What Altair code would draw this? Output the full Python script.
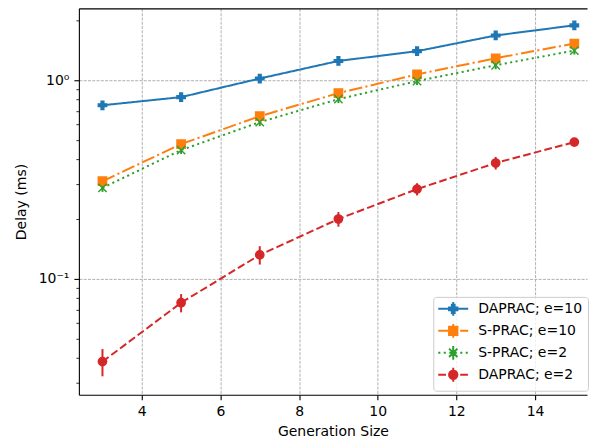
import altair as alt
import pandas as pd

# ---------------- data ----------------
gen_size = [3, 5, 7, 9, 11, 13, 15]
series_names = ["DAPRAC; e=10", "S-PRAC; e=10", "S-PRAC; e=2", "DAPRAC; e=2"]

daprac_e10 = [0.748, 0.822, 1.02, 1.25, 1.40, 1.68, 1.89]
daprac_e10_err = [0.015, 0.016, 0.02, 0.025, 0.028, 0.034, 0.038]

sprac_e10 = [0.310, 0.477, 0.659, 0.861, 1.07, 1.29, 1.53]
sprac_e10_err = [0.006, 0.010, 0.013, 0.017, 0.020, 0.025, 0.030]

sprac_e2 = [0.287, 0.445, 0.615, 0.803, 0.99, 1.19, 1.41]
sprac_e2_err = [0.013, 0.020, 0.028, 0.036, 0.045, 0.054, 0.063]

daprac_e2 = [0.0383, 0.0758, 0.132, 0.200, 0.283, 0.383, 0.488]
daprac_e2_err = [0.006, 0.008, 0.014, 0.017, 0.020, 0.028, 0.015]

x_ticks = [4, 6, 8, 10, 12, 14]
y_major = [0.1, 1]
y_minor = [0.03, 0.04, 0.05, 0.06, 0.07, 0.08, 0.09,
           0.2, 0.3, 0.4, 0.5, 0.6, 0.7, 0.8, 0.9, 2]

# ---------------- table ----------------
rows = []
for name, vals, errs in zip(series_names,
                            [daprac_e10, sprac_e10, sprac_e2, daprac_e2],
                            [daprac_e10_err, sprac_e10_err, sprac_e2_err, daprac_e2_err]):
    for gx, v, e in zip(gen_size, vals, errs):
        rows.append({"series": name, "x": gx, "y": v, "lo": v - e, "hi": v + e})
df = pd.DataFrame(rows)

# ---------------- styles ----------------
colors = ["#1f77b4", "#ff7f0e", "#2ca02c", "#d62728"]
dashes = [[], [13.3, 3.3, 2.1, 3.3], [2.1, 3.4], [7.7, 3.3]]
dash_range = [d if d else [1, 0] for d in dashes]

MARKER_SIZE = 70
UNIT = (MARKER_SIZE ** 0.5) / 2.0

plus_p = "M-0.333,-1H0.333V-0.333H1V0.333H0.333V1H-0.333V0.333H-1V-0.333H-0.333Z"
square_p = "M-1,-1H1V1H-1Z"
x_p = "M-1,-1L1,1M-1,1L1,-1"
circle_p = "M1,0A1,1,0,1,1,-1,0A1,1,0,1,1,1,0Z"
marker_paths = [plus_p, square_p, x_p, circle_p]


def dash_path(pattern, half=15.0):
    if not pattern:
        return f"M{-half / UNIT:.3f},0H{half / UNIT:.3f}"
    parts = []
    x = -half
    i = 0
    while x < half - 1e-9:
        seg = pattern[i % len(pattern)]
        x2 = min(x + seg, half)
        if i % 2 == 0:
            parts.append(f"M{x / UNIT:.3f},0H{x2 / UNIT:.3f}")
        x = x2
        i += 1
    return "".join(parts)


vbar = "M0,-1.65V1.65"
legend_paths = [dash_path(d) + vbar + m for d, m in zip(dashes, marker_paths)]

PLOT_W = 509
PX_PER_UNIT = 39.39
color_scale = alt.Scale(domain=series_names, range=colors)
xs = alt.Scale(domain=[2.4, 2.4 + PLOT_W / PX_PER_UNIT], nice=False, zero=False, padding=0)
ys = alt.Scale(type="log", domain=[0.0261, 2.30], nice=False, padding=0)

major_test = "datum.value == 1 || datum.value == 0.1"

x_axis = alt.Axis(values=x_ticks, title="Generation Size", format="d",
                  tickSize=5, tickWidth=1.1, labelPadding=5, titlePadding=6,
                  grid=True, gridDash=[3, 1.3], gridColor="#b0b0b0", gridWidth=1)
y_axis = alt.Axis(values=y_major + y_minor, title="Delay (ms)",
                  labelExpr="datum.value == 1 ? '10⁰' : (datum.value == 0.1 ? '10⁻¹' : '')",
                  tickSize={"condition": {"test": major_test, "value": 5}, "value": 3},
                  tickWidth={"condition": {"test": major_test, "value": 1.1}, "value": 0.8},
                  grid=True, gridDash=[3, 1.3], gridColor="#b0b0b0", gridWidth=1,
                  gridOpacity={"condition": {"test": major_test, "value": 1}, "value": 0},
                  labelPadding=5, titlePadding=10)

base = alt.Chart(df)

lines = base.mark_line(strokeWidth=2).encode(
    x=alt.X("x:Q", scale=xs, axis=x_axis),
    y=alt.Y("y:Q", scale=ys, axis=y_axis),
    color=alt.Color("series:N", scale=color_scale, legend=None),
    strokeDash=alt.StrokeDash("series:N", scale=alt.Scale(domain=series_names, range=dash_range), legend=None),
)

bars = base.mark_rule(strokeWidth=2).encode(
    x=alt.X("x:Q", scale=xs, axis=None),
    y=alt.Y("lo:Q", scale=ys, axis=None),
    y2="hi:Q",
    color=alt.Color("series:N", scale=color_scale, legend=None),
)

points = base.mark_point(filled=True, size=MARKER_SIZE, opacity=1, strokeWidth=1.4).encode(
    x=alt.X("x:Q", scale=xs, axis=None),
    y=alt.Y("y:Q", scale=ys, axis=None),
    color=alt.Color("series:N", scale=color_scale, legend=None),
    stroke=alt.Stroke("series:N", scale=color_scale, legend=None),
    shape=alt.Shape("series:N", scale=alt.Scale(domain=series_names, range=marker_paths), legend=None),
)

leg = alt.Legend(title=None, orient="none", legendX=355, legendY=289,
                 symbolSize=MARKER_SIZE, symbolStrokeWidth=2,
                 symbolOffset=8, labelOffset=18, labelLimit=0,
                 labelFontSize=14, labelFont="DejaVu Sans", labelColor="black",
                 fillColor="rgba(255,255,255,0.8)", strokeColor="#cccccc",
                 cornerRadius=3, padding=5, rowPadding=0)

legend_layer = base.transform_filter("false").mark_point(
    filled=True, size=MARKER_SIZE, opacity=1, strokeWidth=2).encode(
    x=alt.X("x:Q", scale=xs, axis=None),
    y=alt.Y("y:Q", scale=ys, axis=None),
    color=alt.Color("series:N", scale=color_scale, legend=leg),
    stroke=alt.Stroke("series:N", scale=color_scale, legend=leg),
    shape=alt.Shape("series:N", scale=alt.Scale(domain=series_names, range=legend_paths), legend=leg),
)

top_spine = base.mark_point(opacity=0).encode(
    x=alt.X("x:Q", scale=xs, axis=alt.Axis(orient="top", labels=False, ticks=False,
                                           grid=False, title=None, domain=True)),
    y=alt.Y("y:Q", scale=ys, axis=None),
)

chart = alt.layer(lines, bars, points, legend_layer, top_spine).resolve_scale(
    color="independent", stroke="independent", shape="independent"
).resolve_axis(
    x="independent", y="independent"
).properties(
    width=PLOT_W, height=387,
    padding={"left": 6, "top": 0, "right": 0, "bottom": 0},
).configure(font="DejaVu Sans").configure_view(stroke=None).configure_axis(
    labelFont="DejaVu Sans", titleFont="DejaVu Sans",
    labelFontSize=14, titleFontSize=14, titleFontWeight="normal",
    labelColor="black", titleColor="black",
    domainColor="black", domainWidth=1.1, tickColor="black",
)

chart.save("out.html", embed_options={"renderer": "svg", "actions": False})
